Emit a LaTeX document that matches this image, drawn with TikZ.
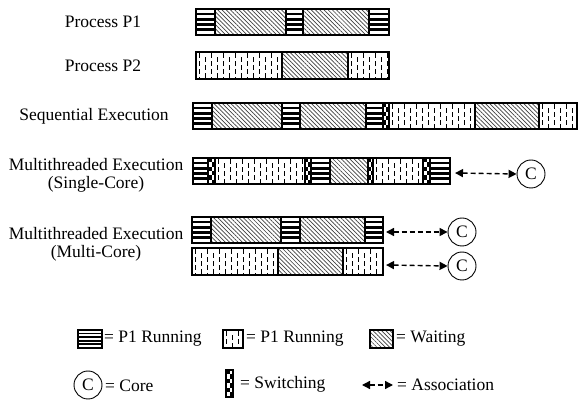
\documentclass[tikz,border=0pt]{standalone}
\usepackage{fontspec}
\setmainfont{Liberation Serif}
\usetikzlibrary{patterns.meta,arrows.meta}
\tikzset{
  barline/.style={line width=1.5pt},
  hatchfill/.style={pattern={Lines[angle=-45,distance=3pt,line width=0.7pt]},pattern color=black!75},
  core/.style={circle,draw,line width=0.9pt,minimum size=28pt,inner sep=0pt,font=\fontsize{17.5}{20}\selectfont},
  assoc/.style={line width=1.4pt,dash pattern=on 5pt off 3pt,{Triangle[length=8pt,width=8pt]}-{Triangle[length=8pt,width=8pt]}},
  lbl/.style={font=\fontsize{17.5}{18}\selectfont,inner sep=0pt,align=center},
  leg/.style={font=\fontsize{17.5}{18}\selectfont,inner sep=0pt,anchor=west}
}
\newcommand{\Sseg}[4]{%
  \fill[white] (#1,#2) rectangle (#3,#4);
  \pgfmathsetmacro{\segsp}{(#4-#2)/5}
  \pgfmathsetmacro{\seglw}{0.5*\segsp}
  \foreach \k in {1,...,4}{\draw[line width=\seglw pt] (#1,{#2+\k*\segsp}) -- (#3,{#2+\k*\segsp});}
  \draw[barline] (#1,#2) rectangle (#3,#4);}
\newcommand{\Dseg}[4]{%
  \fill[white] (#1,#2) rectangle (#3,#4);
  \begin{scope}
    \clip (#1,#2) rectangle (#3,#4);
    \pgfmathtruncatemacro{\segnc}{(#3-#1)/6}
    \pgfmathtruncatemacro{\segnr}{(#4-#2)/8}
    \foreach \c in {0,...,\segnc}{
      \pgfmathsetmacro{\segoff}{mod(\c,2)*4}
      \foreach \r in {0,...,\segnr}{
        \draw[line width=1.3pt] ({#1+3.5+6*\c},{#2+1.5+\segoff+8*\r}) -- ++(0,4.2);
      }
    }
  \end{scope}
  \draw[barline] (#1,#2) rectangle (#3,#4);}
\newcommand{\Hseg}[4]{%
  \fill[white] (#1,#2) rectangle (#3,#4);
  \fill[hatchfill] (#1,#2) rectangle (#3,#4);
  \draw[barline] (#1,#2) rectangle (#3,#4);}
\newcommand{\Wseg}[4]{%
  \fill[white] (#1,#2) rectangle (#3,#4);
  \pgfmathsetmacro{\segcw}{(#3-#1)/2}
  \pgfmathsetmacro{\segch}{(#4-#2)/6}
  \foreach \i in {0,1}{\foreach \j in {0,...,5}{
    \pgfmathtruncatemacro{\segp}{mod(\i+\j,2)}
    \ifnum\segp=0 \fill ({#1+\i*\segcw},{#2+\j*\segch}) rectangle ++(\segcw,\segch);\fi}}
  \draw[barline] (#1,#2) rectangle (#3,#4);}
\begin{document}
\begin{tikzpicture}[x=1pt,y=-1pt]
\useasboundingbox (0,0) rectangle (579,403);
% labels
\node[lbl] (lp1) at (103,22) {Process P1};
\node[lbl] (lp2) at (103,66) {Process P2};
\node[lbl] (lseq) at (94,116) {Sequential Execution};
\node[lbl] (lsc) at (96,175) {Multithreaded Execution\\(Single-Core)};
\node[lbl] (lmc) at (96,244) {Multithreaded Execution\\(Multi-Core)};
% Process P1
\Sseg{196}{9}{215}{35}\Hseg{215}{9}{286}{35}\Sseg{286}{9}{303}{35}\Hseg{303}{9}{369}{35}\Sseg{369}{9}{389}{35}
% Process P2
\Dseg{196}{52}{282}{79}\Hseg{282}{52}{348}{79}\Dseg{348}{52}{389}{79}
% Sequential
\Sseg{193}{103}{212}{129}\Hseg{212}{103}{282}{129}\Sseg{282}{103}{300}{129}\Hseg{300}{103}{366}{129}
\Sseg{366}{103}{383}{129}\Wseg{383}{103}{389}{129}\Dseg{389}{103}{475}{129}\Hseg{475}{103}{539}{129}\Dseg{539}{103}{577}{129}
% Single core
\Sseg{193}{158}{208}{184}\Wseg{208}{158}{215}{184}\Dseg{215}{158}{305}{184}\Wseg{305}{158}{311}{184}
\Sseg{311}{158}{330}{184}\Hseg{330}{158}{368}{184}\Wseg{368}{158}{373}{184}\Dseg{373}{158}{423}{184}
\Wseg{423}{158}{430}{184}\Sseg{430}{158}{450}{184}
% Multi core
\Sseg{192}{217}{211}{243}\Hseg{211}{217}{281}{243}\Sseg{281}{217}{300}{243}\Hseg{300}{217}{365}{243}\Sseg{365}{217}{383}{243}
\Dseg{192}{248}{278}{275}\Hseg{278}{248}{343}{275}\Dseg{343}{248}{383}{275}
% cores and associations
\node[core] (c1) at (531,174) {C};
\node[core] (c2) at (462,232) {C};
\node[core] (c3) at (462,266) {C};
\coordinate (e1) at (455,173);
\coordinate (e2) at (386,232);
\coordinate (e3) at (386,265);
\draw[assoc] (e1) -- (c1.west);
\draw[assoc] (e2) -- (c2.west);
\draw[assoc] (e3) -- (c3.west);
% legend
\Sseg{78}{330}{102}{348}
\node[leg] (t1) at (104,339) {= P1 Running};
\Dseg{223}{330}{243}{348}
\node[leg] (t2) at (246,339) {= P1 Running};
\Hseg{370}{330}{393}{348}
\node[leg] (t3) at (396,339) {= Waiting};
\node[core] (c4) at (88,385) {C};
\node[leg] (t4) at (105,386) {= Core};
\Wseg{226}{370}{233}{397}
\node[leg] (t5) at (240,384) {= Switching};
\coordinate (a1) at (362,385);
\coordinate (a2) at (393,385);
\draw[assoc] (a1) -- (a2);
\node[leg] (t6) at (397,385) {= Association};
\end{tikzpicture}
\end{document}
